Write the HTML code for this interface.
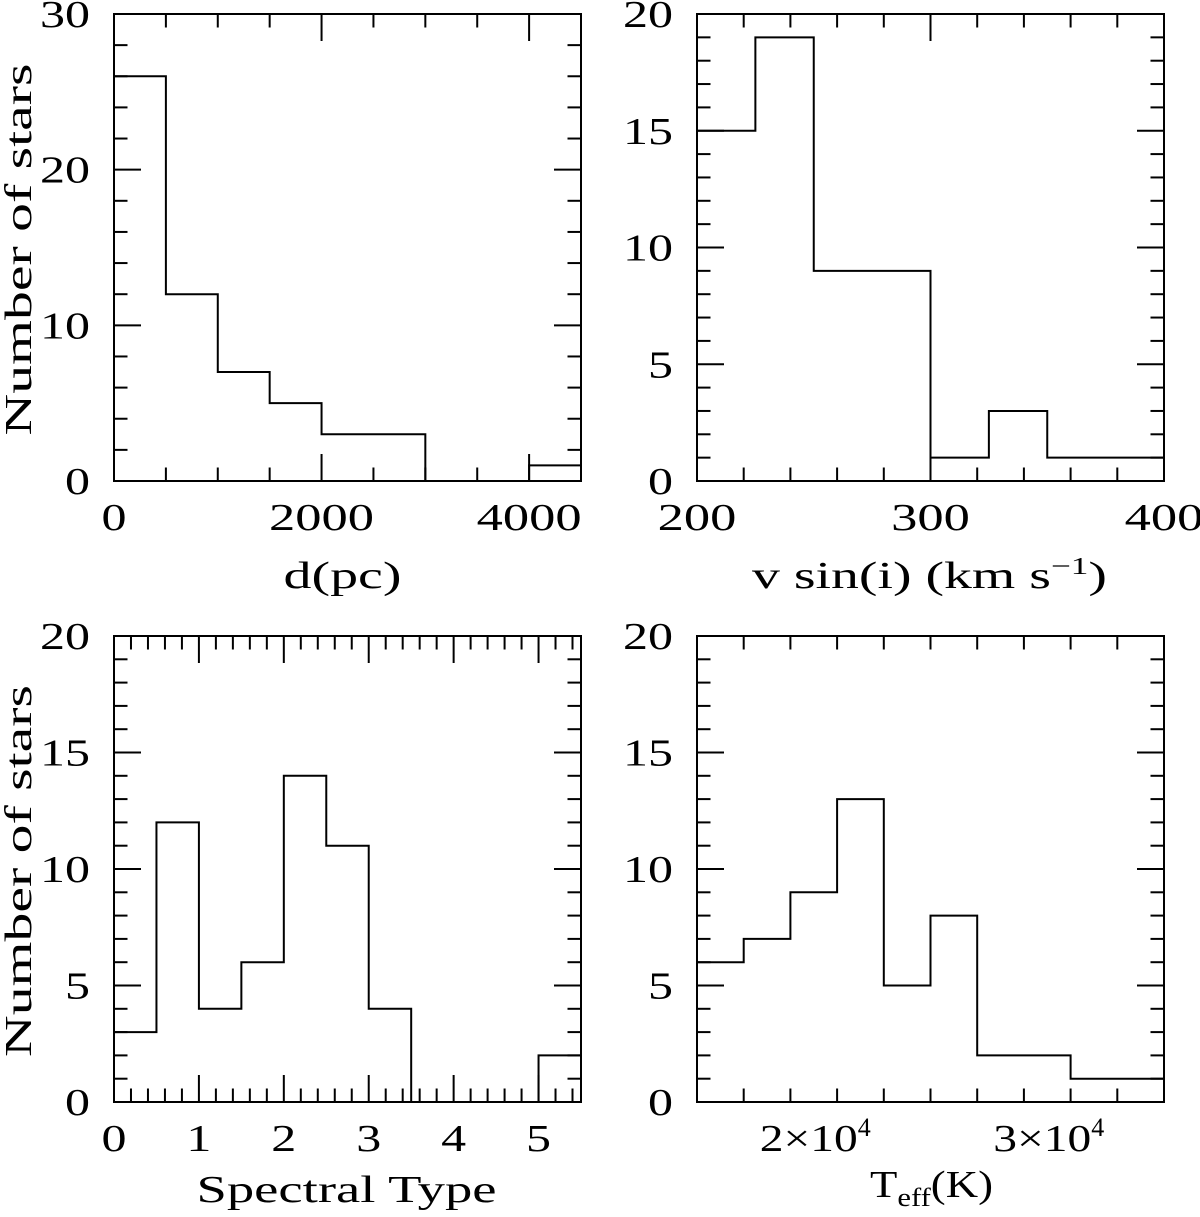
<!DOCTYPE html>
<html><head><meta charset="utf-8"><style>
html,body{margin:0;padding:0;background:#fff}
svg{display:block}
text{font-family:"Liberation Serif",serif;fill:#000}
</style></head><body>
<svg id="fig" width="1200" height="1217" viewBox="0 0 1200 1217" xmlns="http://www.w3.org/2000/svg"></svg>
<script>
// Panel A: distance
const distEdges = [0,500,1000,1500,2000,3000,4000,4500];
const distCounts = [26,12,7,5,3,0,1];
const distXTicks = ["0","2000","4000"];
// Panel B: v sin i
const vsiniEdges = [200,225,250,300,325,350,400];
const vsiniCounts = [15,19,9,1,3,1];
const vsiniXTicks = ["200","300","400"];
// Panel C: spectral type
const sptEdges = [0,0.5,1,1.5,2,2.5,3,3.5,4,4.5,5,5.5];
const sptCounts = [3,12,4,6,14,11,4,0,0,0,2];
const sptXTicks = ["0","1","2","3","4","5"];
// Panel D: Teff
const teffEdges = [15000,17000,19000,21000,23000,25000,27000,31000,35000];
const teffCounts = [6,7,9,13,5,8,2,1];
const teffXTicks = ["2×10^4","3×10^4"];

const NS="http://www.w3.org/2000/svg";
const svg=document.getElementById('fig');
function mk(tag,attrs,parent){const e=document.createElementNS(NS,tag);for(const k in attrs)e.setAttribute(k,attrs[k]);(parent||svg).appendChild(e);return e;}
const FS=38, CW=25;

function panel(opt){
  const g=mk('g',{});
  
  
  const L=opt.x0,R=opt.x1,T=opt.y0,B=opt.y1;
  const sx=v=>L+(v-opt.xmin)/(opt.xmax-opt.xmin)*(R-L);
  const sy=v=>B-(v-opt.ymin)/(opt.ymax-opt.ymin)*(B-T);
  const fr=mk('rect',{x:L,y:T,width:R-L,height:B-T,fill:'none',stroke:'#000','stroke-width':2},g);
  
  
  const nx=Math.round((opt.xmax-opt.xmin)/opt.xminor);
  for(let i=1;i<nx;i++){
    const v=opt.xmin+i*opt.xminor;
    const isMaj=Math.abs(((v-opt.xmajBase)/opt.xmajor)-Math.round((v-opt.xmajBase)/opt.xmajor))<1e-6;
    const len=isMaj?27:13.5, x=sx(v);
    mk('line',{x1:x,y1:B,x2:x,y2:B-len,stroke:'#000','stroke-width':2},g);
    mk('line',{x1:x,y1:T,x2:x,y2:T+len,stroke:'#000','stroke-width':2},g);
  }
  const ny=Math.round((opt.ymax-opt.ymin)/opt.yminor);
  for(let i=1;i<ny;i++){
    const v=opt.ymin+i*opt.yminor;
    const isMaj=Math.abs(v/opt.ymajor-Math.round(v/opt.ymajor))<1e-6;
    const len=isMaj?27:13.5, y=sy(v);
    mk('line',{x1:L,y1:y,x2:L+len,y2:y,stroke:'#000','stroke-width':2},g);
    mk('line',{x1:R,y1:y,x2:R-len,y2:y,stroke:'#000','stroke-width':2},g);
  }
  for(let v=opt.ymin;v<=opt.ymax+1e-9;v+=opt.ymajor){
    const s=String(v);
    const t=mk('text',{x:L-24,y:sy(v)+13,'font-size':FS,'text-anchor':'end',textLength:s.length*CW,lengthAdjust:'spacingAndGlyphs'},g);
    t.textContent=s;
    
    
  }
  opt.xlabels.forEach((lab,i)=>{
    const v=opt.xlabelVals[i];
    if(lab.includes('^')){
      const [base,exp]=lab.split('^');
      const w=112;
      const t=mk('text',{x:sx(v)-w/2+2,y:B+49,'font-size':FS,textLength:w-14,lengthAdjust:'spacingAndGlyphs'},g);
      t.textContent=base;
      
      
      const e=mk('text',{x:sx(v)+w/2-12,y:B+34,'font-size':26},g);
      e.textContent=exp;
      
      
    } else {
      const t=mk('text',{x:sx(v),y:B+49,'font-size':FS,'text-anchor':'middle',textLength:lab.length*CW*(lab.length>1?1.05:1),lengthAdjust:'spacingAndGlyphs'},g);
      t.textContent=lab;
      
      
    }
  });
  let d='M'+sx(opt.edges[0])+','+sy(opt.counts[0]);
  const E=opt.edges,C=opt.counts;
  for(let i=0;i<C.length;i++){
    d+=' L'+sx(E[i+1])+','+sy(C[i]);
    if(i+1<C.length) d+=' L'+sx(E[i+1])+','+sy(C[i+1]);
  }
  const p=mk('path',{d:d,fill:'none',stroke:'#000','stroke-width':2},g);
  
  
  const xt=mk('text',{x:(L+R)/2+opt.xtOff,y:B+opt.xtY,'font-size':FS,'text-anchor':'middle',textLength:opt.xtW,lengthAdjust:'spacingAndGlyphs'},g);
  xt.innerHTML=opt.xtitle;
  
  
  if(opt.ytitle){
    const yt=mk('text',{x:0,y:0,'font-size':FS,'text-anchor':'middle',textLength:372,lengthAdjust:'spacingAndGlyphs',transform:`translate(31,${(T+B)/2+2}) rotate(-90)`},g);
    yt.textContent=opt.ytitle;
    
    
  }
}

panel({name:'panel-distance',x0:114,x1:581,y0:14,y1:481,xmin:0,xmax:4500,ymin:0,ymax:30,xminor:500,xmajor:2000,xmajBase:0,yminor:2,ymajor:10,
  edges:distEdges,counts:distCounts,xlabels:distXTicks,xlabelVals:[0,2000,4000],xtitle:'d(pc)',xtW:118,xtOff:-5,xtY:107,ytitle:'Number of stars'});
panel({name:'panel-vsini',x0:697,x1:1164,y0:14,y1:481,xmin:200,xmax:400,ymin:0,ymax:20,xminor:20,xmajor:100,xmajBase:200,yminor:1,ymajor:5,
  edges:vsiniEdges,counts:vsiniCounts,xlabels:vsiniXTicks,xlabelVals:[200,300,400],
  xtitle:'v sin(i) (km s<tspan font-size="24" dy="-14">−1</tspan><tspan dy="14">)</tspan>',xtW:355,xtOff:-1,xtY:107,ytitle:null});
panel({name:'panel-spectral-type',x0:114,x1:581,y0:636,y1:1102,xmin:0,xmax:5.5,ymin:0,ymax:20,xminor:0.2,xmajor:1,xmajBase:0,yminor:1,ymajor:5,
  edges:sptEdges,counts:sptCounts,xlabels:sptXTicks,xlabelVals:[0,1,2,3,4,5],xtitle:'Spectral Type',xtW:300,xtOff:-1,xtY:100,ytitle:'Number of stars'});
panel({name:'panel-teff',x0:697,x1:1164,y0:636,y1:1102,xmin:15000,xmax:35000,ymin:0,ymax:20,xminor:2000,xmajor:10000,xmajBase:0,yminor:1,ymajor:5,
  edges:teffEdges,counts:teffCounts,xlabels:teffXTicks,xlabelVals:[20000,30000],
  xtitle:'T<tspan font-size="26" dy="9">eff</tspan><tspan dy="-9">(K)</tspan>',xtW:123,xtOff:1,xtY:95,ytitle:null});
</script>
</body></html>
